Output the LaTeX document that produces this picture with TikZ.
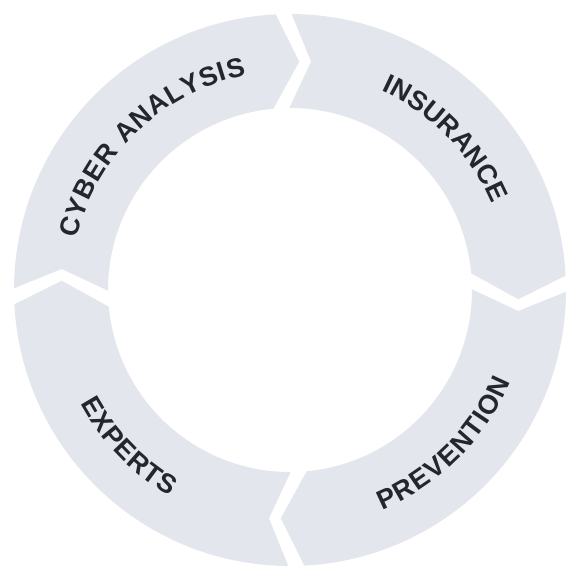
\documentclass[tikz,border=0pt]{standalone}
\usepackage{fontspec}
\newfontfamily\lblfont{Liberation Sans Bold}
\usetikzlibrary{decorations.text}
\definecolor{ringfill}{HTML}{E4E6EE}
\definecolor{lbltext}{HTML}{24262D}
\newcommand{\lblstyle}{\lblfont\fontsize{27}{27}\selectfont}
\begin{document}
\begin{tikzpicture}[x=1pt,y=1pt,
  seg/.style={fill=ringfill, draw=none},
  ringlabel/.style={decorate, decoration={text along path, text align={fit to path}, text color=lbltext}}]
\useasboundingbox (-290,-291) rectangle (291,290);
\foreach \s in {0,1,2,3}{
  \pgfmathsetmacro{\rot}{-90*\s}
  \fill[seg] ({89.65+\rot}:276) arc[start angle={89.65+\rot}, end angle={2.97+\rot}, radius=276]
     -- ({-2.33+\rot}:228.5) -- ({5.26+\rot}:182)
     arc[start angle={5.26+\rot}, end angle={90.22+\rot}, radius=182]
     -- ({84.74+\rot}:229.3) -- cycle;
}
\path[ringlabel, decoration={text={|\lblstyle|CYBER ANALYSIS}}] (166.5:219.5) arc[start angle=166.5, end angle=101.5, radius=219.5];
\path[ringlabel, decoration={text={|\lblstyle|INSURANCE}}] (65.5:219.5) arc[start angle=65.5, end angle=23.1, radius=219.5];
\path[ringlabel, decoration={text={|\lblstyle|PREVENTION}}] (-67.3:238.5) arc[start angle=-67.3, end angle=-22.5, radius=238.5];
\path[ringlabel, decoration={text={|\lblstyle|EXPERTS}}] (208.4:238.5) arc[start angle=208.4, end angle=239.8, radius=238.5];
\end{tikzpicture}
\end{document}
